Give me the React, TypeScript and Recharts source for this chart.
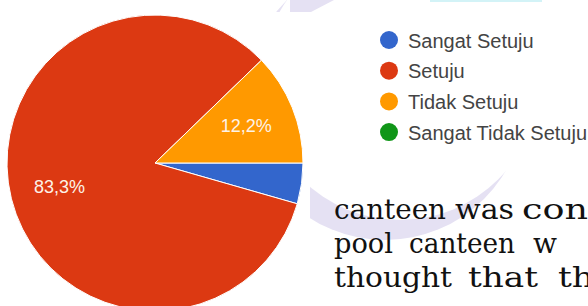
import React from "react";
import { PieChart, Pie, Cell } from "recharts";

const categories = ["Sangat Setuju", "Setuju", "Tidak Setuju", "Sangat Tidak Setuju"];
const counts = [4, 75, 11, 0];
const colors = ["#3366cc", "#dc3912", "#ff9900", "#109618"];

const textLines: { word: string; x: number; w: number }[][] = [
  [
    { word: "canteen", x: 334, w: 112 },
    { word: "was", x: 455, w: 59 },
    { word: "con", x: 522, w: 66 },
  ],
  [
    { word: "pool", x: 334, w: 59 },
    { word: "canteen", x: 409, w: 106 },
    { word: "w", x: 533, w: 24 },
  ],
  [
    { word: "thought", x: 334, w: 118 },
    { word: "that", x: 468, w: 70 },
    { word: "th", x: 558, w: 36 },
  ],
];

const data = categories.map((name, i) => ({ name, value: counts[i] }));

const RAD = Math.PI / 180;

const renderLabel = (props: any) => {
  const { cx, cy, midAngle, outerRadius, percent } = props;
  if (percent < 0.05) return null;
  const r = outerRadius * 0.665;
  const x = cx + r * Math.cos(-midAngle * RAD);
  const y = cy + r * Math.sin(-midAngle * RAD);
  const txt = (percent * 100).toFixed(1).replace(".", ",") + "%";
  return (
    <text
      x={x}
      y={y}
      textAnchor="middle"
      dominantBaseline="central"
      fill="#fdf3e8"
      fontSize={18}
      fontFamily="'Liberation Sans', Arial, sans-serif"
    >
      {txt}
    </text>
  );
};

export default function App() {
  const W = 588;
  const H = 306;
  const purple = "rgb(229,225,243)";
  return (
    <div
      style={{
        position: "fixed",
        left: 0,
        top: 0,
        width: W,
        height: H,
        background: "#fff",
        overflow: "hidden",
      }}
    >
      {/* background watermark */}
      <svg width={W} height={H} style={{ position: "absolute", left: 0, top: 0 }}>
        <defs>
          <mask id="crescentMask">
            <rect x={0} y={0} width={W} height={H} fill="#fff" />
            <circle cx={400} cy={81} r={139} fill="#000" />
          </mask>
        </defs>
        <circle cx={385} cy={100} r={140} fill={purple} mask="url(#crescentMask)" />
        <polygon points="290,0 334,0 311,12 290,12" fill={purple} />
        <rect x={430} y={0} width={112} height={2} fill="#d3f3f7" />
        {/* screenshot white areas */}
        <rect x={0} y={12} width={W} height={158} fill="#fff" />
        <rect x={0} y={12} width={310} height={H} fill="#fff" />
      </svg>

      <div style={{ position: "absolute", left: 0, top: 0 }}>
        <PieChart width={W} height={H} margin={{ top: 0, right: 0, bottom: 0, left: 0 }}>
          <Pie
            data={data}
            dataKey="value"
            nameKey="name"
            cx={155}
            cy={163}
            outerRadius={148}
            innerRadius={0}
            startAngle={0}
            endAngle={-360}
            stroke="#ffffff"
            strokeWidth={1}
            label={renderLabel}
            labelLine={false}
            isAnimationActive={false}
          >
            {data.map((d, i) => (
              <Cell key={d.name} fill={colors[i]} />
            ))}
          </Pie>
        </PieChart>
      </div>

      {/* legend and text overlay */}
      <svg width={W} height={H} style={{ position: "absolute", left: 0, top: 0 }}>
        {categories.map((c, i) => (
          <g key={c}>
            <circle cx={389} cy={40 + i * 30.7} r={9} fill={colors[i]} />
            <text
              x={408}
              y={47.5 + i * 30.7}
              fontSize={20}
              fill="#444"
              fontFamily="'Liberation Sans', Arial, sans-serif"
            >
              {c}
            </text>
          </g>
        ))}
        {textLines.map((line, li) =>
          line.map((w, wi) => (
            <text
              key={li + "-" + wi}
              x={w.x}
              y={219 + li * 34}
              fontSize={28}
              fill="#111"
              fontFamily="'DejaVu Serif', serif"
              textLength={w.w}
              lengthAdjust="spacingAndGlyphs"
            >
              {w.word}
            </text>
          ))
        )}
      </svg>
    </div>
  );
}
